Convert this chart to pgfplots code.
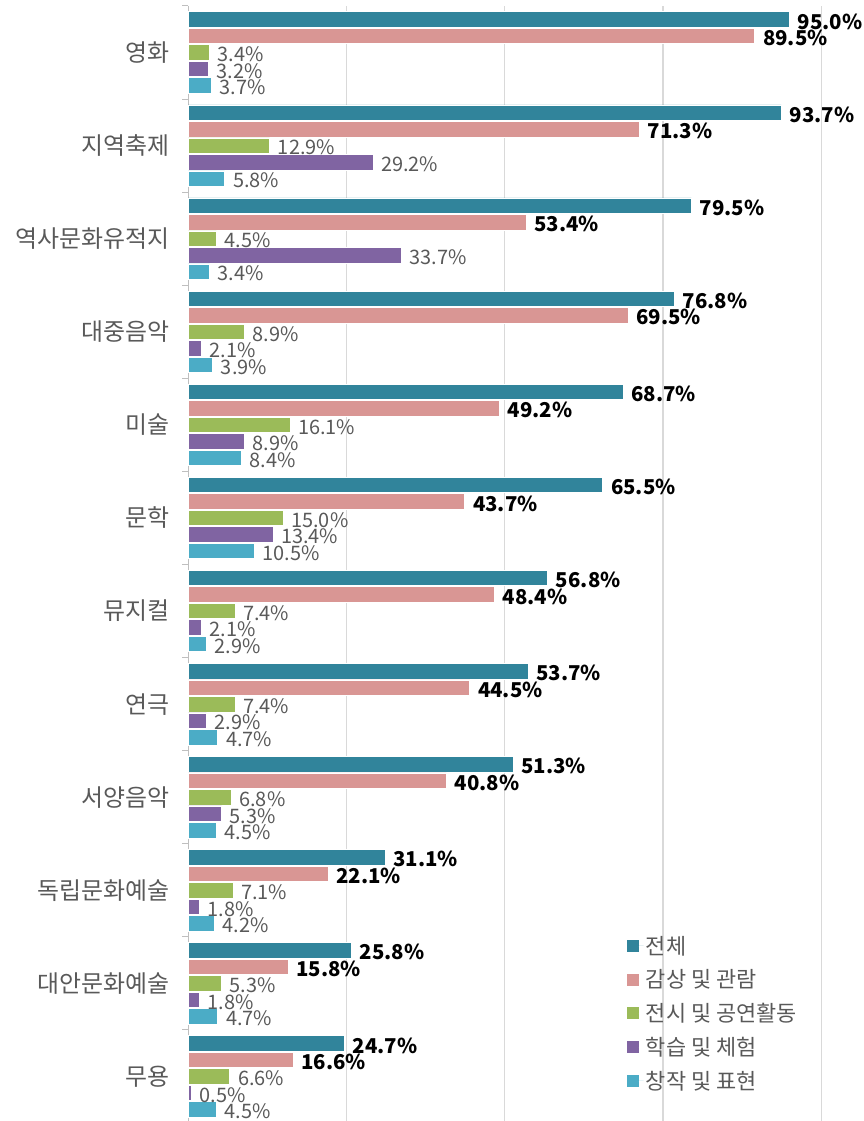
\documentclass[border=0pt]{standalone}
\usepackage{pgfplots}
\pgfplotsset{compat=1.18}
\usepackage{fontspec}
\setmainfont{Noto Sans CJK KR}
\definecolor{c1}{HTML}{31849B}
\definecolor{c2}{HTML}{D99694}
\definecolor{c3}{HTML}{9BBB59}
\definecolor{c4}{HTML}{8064A2}
\definecolor{c5}{HTML}{4BACC6}
\definecolor{txt}{HTML}{595959}
\definecolor{gridc}{HTML}{D9D9D9}
\definecolor{axc}{HTML}{BFBFBF}
\pgfplotsset{
  lbl/.style={nodes near coords={\pgfmathprintnumber[fixed,fixed zerofill,precision=1,assume math mode=true]{\pgfplotspointmeta}\%},
    point meta=x,
    every node near coord/.append style={anchor=west, inner sep=0pt, xshift=8bp, yshift=-2bp, font=\fontsize{20}{24}\selectfont, text=#1}},
  lblb/.style={nodes near coords={\pgfmathprintnumber[fixed,fixed zerofill,precision=1,assume math mode=true]{\pgfplotspointmeta}\%},
    point meta=x,
    every node near coord/.append style={anchor=west, inner sep=0pt, xshift=8bp, yshift=-2bp, font=\fontsize{20.5}{24}\selectfont\bfseries, text=black}},
}
\begin{document}
\begin{tikzpicture}
\begin{axis}[
  scale only axis, width=675bp, height=1117bp,
  xmin=0, xmax=106.6, ymin=0.5, ymax=12.5,
  xbar, bar width=15.5bp,
  axis lines*=left,
  x axis line style={draw=none},
  y axis line style={draw=axc, line width=1bp},
  xtick={25,50,75,100}, xticklabels={}, xmajorgrids,
  grid style={gridc, line width=1.2bp},
  major tick length=0pt,
  ytick={1,...,12},
  yticklabels={무용,대안문화예술,독립문화예술,서양음악,연극,뮤지컬,문학,미술,대중음악,역사문화유적지,지역축제,영화},
  minor ytick={0.5,1.5,...,12.5},
  minor y tick style={draw=axc, line width=1bp},
  minor tick length=6bp, tick align=outside,
  yticklabel style={font=\fontsize{24}{28}\selectfont, text=txt, inner sep=0pt, xshift=-18bp},
  legend style={at={(0.645,0.171)}, anchor=north west, draw=none, fill=none,
    font=\fontsize{22}{26}\selectfont, text=txt, row sep=10bp,
    nodes={inner sep=2bp}},
  legend cell align=left,
  legend image code/.code={\fill[#1,draw=none] (0bp,-6bp) rectangle (12bp,6bp); \path (12bp,0bp) -- (17bp,0bp);},
]
\addplot[fill=c1, draw=white, line width=0.6bp, bar shift=33bp, lblb] coordinates {
(95.0,12) (93.7,11) (79.5,10) (76.8,9) (68.7,8) (65.5,7) (56.8,6) (53.7,5) (51.3,4) (31.1,3) (25.8,2) (24.7,1)};
\addplot[fill=c2, draw=white, line width=0.6bp, bar shift=16.5bp, lblb] coordinates {
(89.5,12) (71.3,11) (53.4,10) (69.5,9) (49.2,8) (43.7,7) (48.4,6) (44.5,5) (40.8,4) (22.1,3) (15.8,2) (16.6,1)};
\addplot[fill=c3, draw=white, line width=0.6bp, bar shift=0bp, lbl=txt] coordinates {
(3.4,12) (12.9,11) (4.5,10) (8.9,9) (16.1,8) (15.0,7) (7.4,6) (7.4,5) (6.8,4) (7.1,3) (5.3,2) (6.6,1)};
\addplot[fill=c4, draw=white, line width=0.6bp, bar shift=-16.5bp, lbl=txt] coordinates {
(3.2,12) (29.2,11) (33.7,10) (2.1,9) (8.9,8) (13.4,7) (2.1,6) (2.9,5) (5.3,4) (1.8,3) (1.8,2) (0.5,1)};
\addplot[fill=c5, draw=white, line width=0.6bp, bar shift=-33bp, lbl=txt] coordinates {
(3.7,12) (5.8,11) (3.4,10) (3.9,9) (8.4,8) (10.5,7) (2.9,6) (4.7,5) (4.5,4) (4.2,3) (4.7,2) (4.5,1)};
\legend{전체,감상 및 관람,전시 및 공연활동,학습 및 체험,창작 및 표현}
\end{axis}
\pgfresetboundingbox
\path[use as bounding box] ([xshift=-188bp, yshift=6bp]current axis.north west) rectangle ([yshift=2bp]current axis.south east);
\end{tikzpicture}
\end{document}
